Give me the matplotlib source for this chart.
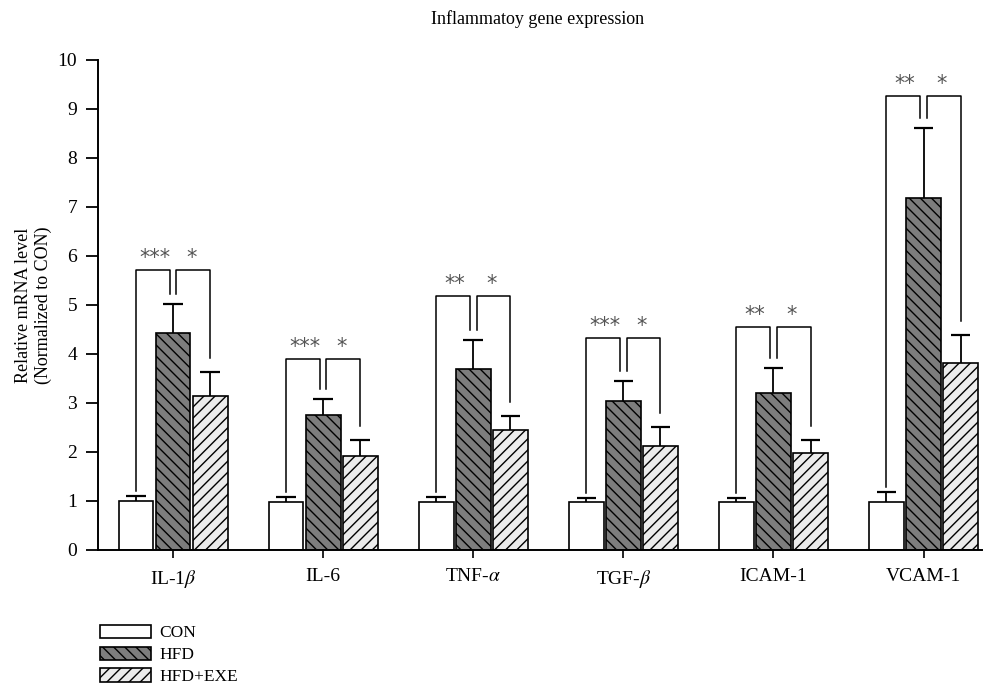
import matplotlib
matplotlib.use('Agg')
import matplotlib.pyplot as plt
import numpy as np

plt.rcParams['font.family'] = ['Liberation Serif', 'DejaVu Serif']
plt.rcParams['mathtext.fontset'] = 'stix'
plt.rcParams['hatch.linewidth'] = 1.0

# données
genes = ['IL-1$\\beta$', 'IL-6', 'TNF-$\\alpha$', 'TGF-$\\beta$', 'ICAM-1', 'VCAM-1']
groups = ['CON', 'HFD', 'HFD+EXE']

con = [1.00, 0.98, 0.98, 0.98, 0.98, 0.98]
con_err = [0.10, 0.10, 0.10, 0.08, 0.08, 0.20]
hfd = [4.43, 2.76, 3.70, 3.05, 3.21, 7.18]
hfd_err = [0.60, 0.32, 0.58, 0.40, 0.50, 1.43]
exe = [3.14, 1.92, 2.45, 2.12, 1.98, 3.82]
exe_err = [0.50, 0.33, 0.28, 0.40, 0.27, 0.57]

bracket_top = [5.71, 3.90, 5.18, 4.33, 4.55, 9.27]
stars_left = ['***', '***', '**', '***', '**', '**']
stars_right = ['*', '*', '*', '*', '*', '*']

x = np.arange(len(genes))
off = 0.247
w = 0.232

fig = plt.figure(figsize=(9.93, 6.88), dpi=100)
ax = fig.add_axes([0.0987, 0.2006, 0.8903, 0.7122])

styles = [
    dict(facecolor='white', hatch=None),
    dict(facecolor='#7d7d7d', hatch='\\\\\\'),
    dict(facecolor='#ececec', hatch='///'),
]
series = [(con, con_err), (hfd, hfd_err), (exe, exe_err)]
handles = []
for k, (vals, errs) in enumerate(series):
    pos = x + (k - 1) * off
    b = ax.bar(pos, vals, width=w, edgecolor='black', linewidth=1.2,
               zorder=2, label=groups[k], **styles[k])
    handles.append(b)
    tops = np.array(vals) + np.array(errs)
    ax.vlines(pos, vals, tops, color='black', lw=1.3, zorder=3)
    ax.hlines(tops, pos - 0.065, pos + 0.065, color='black', lw=1.6, zorder=3)

# crochets de significativité
gap = [0.10, 0.20, 0.28]
for i in range(len(genes)):
    ytop = bracket_top[i]
    xc, xh, xe = x[i] - off, x[i], x[i] + off
    yc = con[i] + con_err[i] + gap[0]
    yh = hfd[i] + hfd_err[i] + gap[1]
    ye = exe[i] + exe_err[i] + gap[2]
    d = 0.022
    ax.plot([xc, xc, xh - d, xh - d], [yc, ytop, ytop, yh], color='black', lw=1.1, zorder=4)
    ax.plot([xh + d, xh + d, xe, xe], [yh, ytop, ytop, ye], color='black', lw=1.1, zorder=4)
    ax.text((xc + xh) / 2, ytop + 0.04, stars_left[i], ha='center', va='bottom',
            fontsize=15, color='#555555', family='DejaVu Sans')
    ax.text((xh + xe) / 2, ytop + 0.04, stars_right[i], ha='center', va='bottom',
            fontsize=15, color='#555555', family='DejaVu Sans')

ax.set_xlim(-0.5, 5.39)
ax.set_ylim(0, 10)
ax.set_yticks(range(0, 11))
ax.set_xticks(x)
ax.set_xticklabels(genes, fontsize=14)
ax.tick_params(axis='y', labelsize=14, length=9, width=1.3, pad=6)
ax.tick_params(axis='x', length=6, width=1.2, pad=7)
for s in ['top', 'right']:
    ax.spines[s].set_visible(False)
for s in ['left', 'bottom']:
    ax.spines[s].set_linewidth(1.4)

ax.set_ylabel('Relative mRNA level\n(Normalized to CON)', fontsize=13, labelpad=4)
fig.text(0.541, 0.972, 'Inflammatoy gene expression', ha='center', va='center', fontsize=13)

fig.legend(handles=handles, labels=groups, loc='upper left',
           bbox_to_anchor=(0.101, 0.092), frameon=False, fontsize=12.5,
           handlelength=2.9, handleheight=0.8, labelspacing=0.3, handletextpad=0.5,
           borderaxespad=0, borderpad=0)

fig.savefig('out.png', dpi=100)
